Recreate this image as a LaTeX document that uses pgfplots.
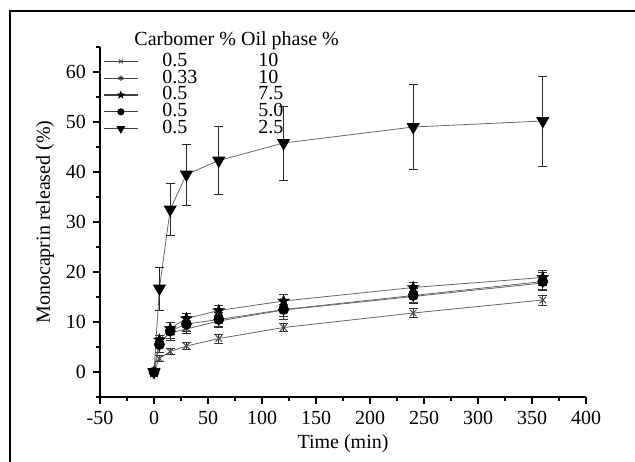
\documentclass[border=0pt]{standalone}
\usepackage{fontspec}
\setmainfont{Liberation Serif}
\usepackage{pgfplots}
\pgfplotsset{compat=1.18}
\usetikzlibrary{plotmarks}

% filled five-pointed star
\pgfdeclareplotmark{fstar}{%
  \pgfpathmoveto{\pgfpointpolar{90}{\pgfplotmarksize}}%
  \pgfpathlineto{\pgfpointpolar{126}{0.42\pgfplotmarksize}}%
  \pgfpathlineto{\pgfpointpolar{162}{\pgfplotmarksize}}%
  \pgfpathlineto{\pgfpointpolar{198}{0.42\pgfplotmarksize}}%
  \pgfpathlineto{\pgfpointpolar{234}{\pgfplotmarksize}}%
  \pgfpathlineto{\pgfpointpolar{270}{0.42\pgfplotmarksize}}%
  \pgfpathlineto{\pgfpointpolar{306}{\pgfplotmarksize}}%
  \pgfpathlineto{\pgfpointpolar{342}{0.42\pgfplotmarksize}}%
  \pgfpathlineto{\pgfpointpolar{18}{\pgfplotmarksize}}%
  \pgfpathlineto{\pgfpointpolar{54}{0.42\pgfplotmarksize}}%
  \pgfpathclose
  \pgfusepathqfillstroke
}

\pgfplotstableread{
t v e
0 0 0.5
5 2.7 0.6
15 4.1 0.6
30 5.2 0.7
60 6.7 0.9
120 8.9 0.8
240 11.8 0.9
360 14.4 1.0
}\crossdata
\pgfplotstableread{
t v e
0 0 0.5
5 6.0 1.0
15 7.8 1.0
30 8.6 0.8
60 10.2 1.0
120 12.4 1.2
240 15.1 1.1
360 17.8 1.2
}\asterdata
\pgfplotstableread{
t v e
0 0 0.5
5 6.4 1.0
15 8.7 1.2
30 10.7 1.0
60 12.3 1.0
120 14.2 1.3
240 16.9 1.0
360 18.9 1.5
}\stardata
\pgfplotstableread{
t v e
0 0 0.6
5 5.5 1.5
15 8.2 1.8
30 9.6 1.4
60 10.5 1.5
120 12.5 2.0
240 15.3 1.5
360 18.1 1.8
}\circdata
\pgfplotstableread{
t v e
0 0 0
5 16.7 4.3
15 32.5 5.2
30 39.5 6.1
60 42.3 6.8
120 45.8 7.4
240 49.0 8.5
360 50.2 9.0
}\tridata

\begin{document}
\begin{tikzpicture}[font=\fontsize{10}{12}\selectfont]
\begin{axis}[
    scale only axis,
    width=243pt, height=175pt,
    xmin=-50, xmax=400, ymin=-5, ymax=65,
    clip=false,
    axis x line*=bottom, axis y line*=left,
    axis line style={-, line width=0.65pt},
    xtick={-50,0,...,400}, minor xtick={-25,25,...,375},
    ytick={0,10,...,60}, minor ytick={-5,5,...,65},
    tick align=outside,
    major tick length=3.5pt, minor tick length=2pt,
    tick style={black, line width=0.6pt},
    tick label style={font=\fontsize{10}{12}\selectfont},
    label style={font=\fontsize{10.3}{12}\selectfont},
    /pgf/number format/assume math mode=true,
    xlabel={Time (min)},
    ylabel={Monocaprin released (\%)},
    every axis x label/.style={at={(axis description cs:0.5,-0.146)}, anchor=base},
    every axis y label/.style={at={(axis description cs:-0.113,0.5)}, rotate=90, anchor=center},
    legend image code/.code={%
        \draw[mark repeat=2, mark phase=2, #1, black!75, line width=0.55pt,
              every mark/.append style={scale=0.6}]
        plot coordinates {(0pt,0pt) (8.5pt,0pt) (17pt,0pt)};},
    legend style={draw=none, fill=none, inner sep=0pt,
        at={(axis description cs:0.006,0.984)}, anchor=north west,
        column sep=12pt, row sep=0pt,
        nodes={inner sep=0pt, text height=6.6pt, text depth=1.8pt},
        font=\fontsize{10}{12}\selectfont},
    legend cell align=left,
]
\addplot[black!60, line width=0.4pt, mark=x, mark size=2.3pt,
    mark options={black!70, line width=0.5pt},
    error bars/.cd, y dir=both, y explicit,
    error bar style={black!80, line width=0.5pt},
    error mark options={rotate=90, mark size=2.2pt}]
    table[x=t, y=v, y error=e] {\crossdata};
\addlegendentry{\makebox[48pt][l]{0.5}10}
\addplot[black!60, line width=0.4pt, mark=asterisk, mark size=2.3pt,
    mark options={black!80, line width=0.5pt},
    error bars/.cd, y dir=both, y explicit,
    error bar style={black!80, line width=0.5pt},
    error mark options={rotate=90, mark size=2.2pt}]
    table[x=t, y=v, y error=e] {\asterdata};
\addlegendentry{\makebox[48pt][l]{0.33}10}
\addplot[black!60, line width=0.4pt, mark=fstar, mark size=3pt,
    mark options={black, line width=0.3pt},
    error bars/.cd, y dir=both, y explicit,
    error bar style={black!80, line width=0.5pt},
    error mark options={rotate=90, mark size=2.2pt}]
    table[x=t, y=v, y error=e] {\stardata};
\addlegendentry{\makebox[48pt][l]{0.5}7.5}
\addplot[black!60, line width=0.4pt, mark=*, mark size=2.5pt,
    mark options={black},
    error bars/.cd, y dir=both, y explicit,
    error bar style={black!80, line width=0.5pt},
    error mark options={rotate=90, mark size=2.2pt}]
    table[x=t, y=v, y error=e] {\circdata};
\addlegendentry{\makebox[48pt][l]{0.5}5.0}
\addplot[black!60, line width=0.4pt, mark=triangle*, mark size=3.4pt,
    mark options={black, rotate=180},
    error bars/.cd, y dir=both, y explicit,
    error bar style={black!85, line width=0.55pt},
    error mark options={rotate=90, mark size=2.2pt}]
    table[x=t, y=v, y error=e] {\tridata};
\addlegendentry{\makebox[48pt][l]{0.5}2.5}
\node[anchor=base west, inner sep=0pt, font=\fontsize{10}{12}\selectfont]
    at (axis description cs:0.07,1.003) {Carbomer \% Oil phase \%};
\end{axis}
\draw[line width=1pt] (-45pt,-45pt) -- (-45pt,193pt) -- (290pt,193pt);
\pgfresetboundingbox
\useasboundingbox (-50pt,-32pt) rectangle (267.5pt,198.5pt);
\end{tikzpicture}
\end{document}
